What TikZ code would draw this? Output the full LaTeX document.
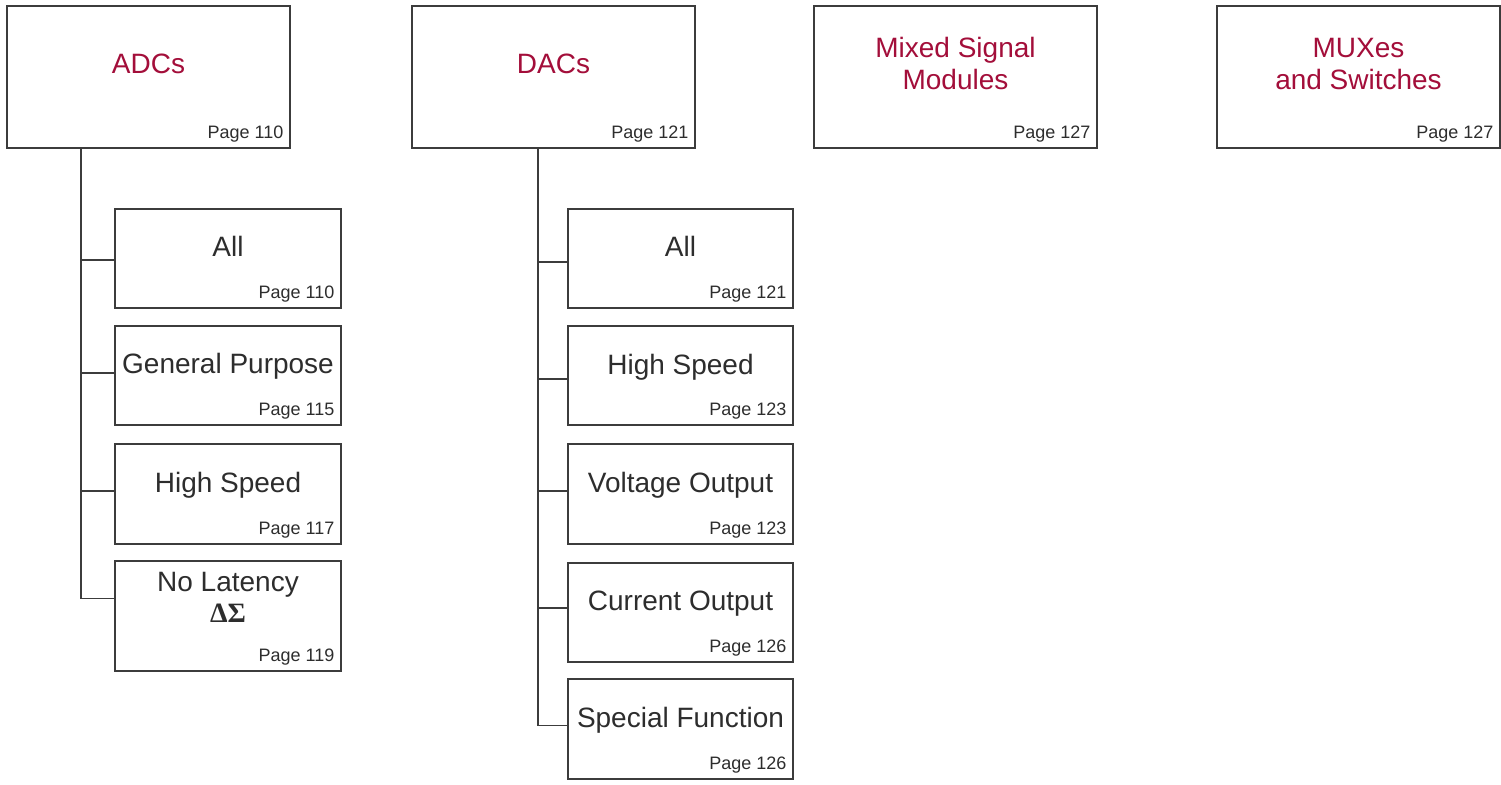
\documentclass[tikz,border=0pt]{standalone}
\usepackage{fontspec}
\setmainfont{Liberation Sans}
\newfontfamily\greekserif{Liberation Serif}
\usetikzlibrary{calc}
\definecolor{tired}{RGB}{163,14,58}
\definecolor{txtgray}{RGB}{45,45,45}
\definecolor{linegray}{RGB}{60,60,60}
\tikzset{
  topbox/.style={draw=linegray, line width=1.2pt, rectangle, inner sep=0pt,
    minimum width=283pt, minimum height=142pt},
  subbox/.style={draw=linegray, line width=1.2pt, rectangle, inner sep=0pt,
    minimum width=226pt},
  conn/.style={draw=linegray, line width=1.2pt},
  toptxt/.style={text=tired, inner sep=0pt, anchor=base, align=center,
    font=\fontsize{28}{32}\selectfont},
  subtxt/.style={text=txtgray, inner sep=0pt, anchor=base, align=center,
    font=\fontsize{28}{32}\selectfont},
  pagetxt/.style={text=txtgray, inner sep=0pt, anchor=base east,
    font=\fontsize{18}{20}\selectfont}
}
\begin{document}
\begin{tikzpicture}[x=1pt,y=-1pt]
\useasboundingbox (0,0) rectangle (1501,784);
% top boxes
\node[topbox] (adc) at (148.5,77) {};
\node[topbox] (dac) at (553.5,77) {};
\node[topbox] (mix) at (955.5,77) {};
\node[topbox] (mux) at (1358.5,77) {};
\node[toptxt] (adct) at ([yshift=-68pt]adc.north) {ADCs};
\node[toptxt] (dact) at ([yshift=-68pt]dac.north) {DACs};
\node[toptxt] (mixt) at ([yshift=-84pt]mix.north) {Mixed Signal\\Modules};
\node[toptxt] (muxt) at ([yshift=-84pt]mux.north) {MUXes\\and Switches};
\node[pagetxt] (adcp) at ([xshift=-7pt,yshift=10pt]adc.south east) {Page 110};
\node[pagetxt] (dacp) at ([xshift=-7pt,yshift=10pt]dac.south east) {Page 121};
\node[pagetxt] (mixp) at ([xshift=-7pt,yshift=10pt]mix.south east) {Page 127};
\node[pagetxt] (muxp) at ([xshift=-7pt,yshift=10pt]mux.south east) {Page 127};
% ADC sub boxes
\node[subbox, minimum height=99pt] (a1) at (228,258.5) {};
\node[subbox, minimum height=99pt] (a2) at (228,375.5) {};
\node[subbox, minimum height=100pt] (a3) at (228,494) {};
\node[subbox, minimum height=110pt] (a4) at (228,616) {};
\node[subtxt] (a1t) at ([yshift=-48pt]a1.north) {All};
\node[subtxt] (a2t) at ([yshift=-48pt]a2.north) {General Purpose};
\node[subtxt] (a3t) at ([yshift=-49pt]a3.north) {High Speed};
\node[subtxt] (a4t) at ([yshift=-31pt]a4.north) {No Latency};
\node[subtxt, font=\greekserif\bfseries\fontsize{28}{32}\selectfont] (a4g) at ([yshift=-62pt]a4.north) {ΔΣ};
\node[pagetxt] (a1p) at ([xshift=-7pt,yshift=10pt]a1.south east) {Page 110};
\node[pagetxt] (a2p) at ([xshift=-7pt,yshift=10pt]a2.south east) {Page 115};
\node[pagetxt] (a3p) at ([xshift=-7pt,yshift=10pt]a3.south east) {Page 117};
\node[pagetxt] (a4p) at ([xshift=-7pt,yshift=10pt]a4.south east) {Page 119};
% DAC sub boxes
\node[subbox, minimum width=225pt, minimum height=99pt] (d1) at (680.5,258.5) {};
\node[subbox, minimum width=225pt, minimum height=99pt] (d2) at (680.5,375.5) {};
\node[subbox, minimum width=225pt, minimum height=100pt] (d3) at (680.5,494) {};
\node[subbox, minimum width=225pt, minimum height=99pt] (d4) at (680.5,612.5) {};
\node[subbox, minimum width=225pt, minimum height=100pt] (d5) at (680.5,729) {};
\node[subtxt] (d1t) at ([yshift=-48pt]d1.north) {All};
\node[subtxt] (d2t) at ([yshift=-49pt]d2.north) {High Speed};
\node[subtxt] (d3t) at ([yshift=-49pt]d3.north) {Voltage Output};
\node[subtxt] (d4t) at ([yshift=-48.5pt]d4.north) {Current Output};
\node[subtxt] (d5t) at ([yshift=-49.5pt]d5.north) {Special Function};
\node[pagetxt] (d1p) at ([xshift=-7pt,yshift=10pt]d1.south east) {Page 121};
\node[pagetxt] (d2p) at ([xshift=-7pt,yshift=10pt]d2.south east) {Page 123};
\node[pagetxt] (d3p) at ([xshift=-7pt,yshift=10pt]d3.south east) {Page 123};
\node[pagetxt] (d4p) at ([xshift=-7pt,yshift=10pt]d4.south east) {Page 126};
\node[pagetxt] (d5p) at ([xshift=-7pt,yshift=10pt]d5.south east) {Page 126};
% connectors
\coordinate (aspine) at (81,0);
\coordinate (dspine) at (538,0);
\draw[conn] (aspine |- adc.south) |- ([yshift=-38pt]a4.north west);
\draw[conn] (aspine |- 0,260) -- (a1.west |- 0,260);
\draw[conn] (aspine |- 0,373) -- (a2.west |- 0,373);
\draw[conn] (aspine |- 0,491) -- (a3.west |- 0,491);
\draw[conn] (dspine |- dac.south) |- ([yshift=-47pt]d5.north west);
\draw[conn] (dspine |- 0,262) -- (d1.west |- 0,262);
\draw[conn] (dspine |- 0,379) -- (d2.west |- 0,379);
\draw[conn] (dspine |- 0,491) -- (d3.west |- 0,491);
\draw[conn] (dspine |- 0,608) -- (d4.west |- 0,608);
\end{tikzpicture}
\end{document}
